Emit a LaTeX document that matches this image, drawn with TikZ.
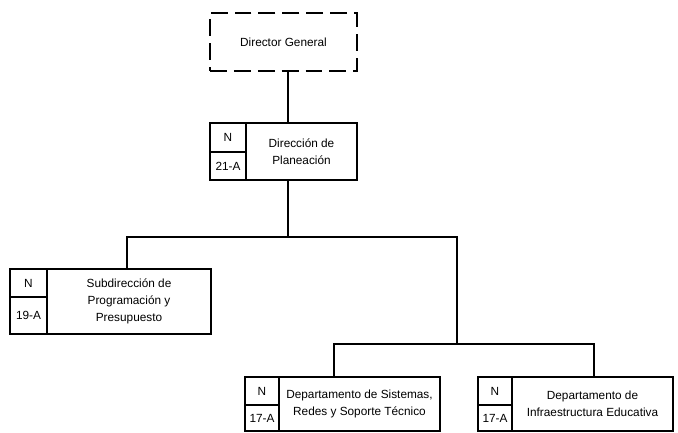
\documentclass[tikz,border=0pt]{standalone}
\usepackage{fontspec}
\setmainfont{Liberation Sans}
\begin{document}
\begin{tikzpicture}[x=0.025cm,y=-0.025cm,
  namebox/.style={draw,line width=1.1pt,inner sep=0pt,outer sep=0pt,align=center,
    font=\fontsize{8.4}{12}\selectfont},
  codebox/.style={draw,line width=1.1pt,inner sep=0pt,outer sep=0pt,
    font=\fontsize{8.4}{12}\selectfont},
  link/.style={line width=1.3pt}]

\useasboundingbox (0,0) rectangle (678,433);

% Director General
\node[namebox,dash pattern=on 12pt off 5pt,minimum width=104.6pt,minimum height=41.3pt] (dg) at (283.5,42) {Director General};

% Direccion de Planeacion
\node[namebox,minimum width=79pt,minimum height=40.5pt] (dp) at (301.5,151.5) {Dirección de\\Planeación};
\node[codebox,minimum width=25.6pt,minimum height=20.6pt] (dpn) at (228,137.5) {N};
\node[codebox,minimum width=25.6pt,minimum height=19.9pt] (dpc) at (228,166) {21-A};

% Subdireccion
\node[namebox,minimum width=116.7pt,minimum height=46.2pt] (sub) at (129,301.5) {Subdirección de\\Programación y\\Presupuesto};
\node[codebox,minimum width=26.3pt,minimum height=19.9pt] (subn) at (28.5,283) {N};
\node[codebox,minimum width=26.3pt,minimum height=26.3pt] (subc) at (28.5,315.5) {19-A};

% Departamento de Sistemas
\node[namebox,minimum width=114.5pt,minimum height=38.4pt] (sis) at (359.5,404) {Departamento de Sistemas,\\Redes y Soporte Técnico};
\node[codebox,minimum width=24.2pt,minimum height=19.9pt] (sisn) at (262,391) {N};
\node[codebox,minimum width=24.2pt,minimum height=18.5pt] (sisc) at (262,418) {17-A};

% Departamento de Infraestructura
\node[namebox,minimum width=114.5pt,minimum height=38.4pt] (inf) at (592.5,404) {Departamento de\\Infraestructura Educativa};
\node[codebox,minimum width=24.2pt,minimum height=19.9pt] (infn) at (495,391) {N};
\node[codebox,minimum width=24.2pt,minimum height=18.5pt] (infc) at (495,418) {17-A};

% lineas
\coordinate (j1) at (288,237);
\coordinate (j2) at (457,344);
\coordinate (b2l) at (334,344);
\coordinate (b2r) at (594,344);

\draw[link] (dg.south -| j1) -- (j1 |- dp.north);
\draw[link] (j1 |- dp.south) -- (j1);
\draw[link] (sub.north -| 127,0) |- (j1) -| (j2);
\draw[link] (sis.north -| b2l) |- (b2r) -- (b2r |- inf.north);

\end{tikzpicture}
\end{document}
